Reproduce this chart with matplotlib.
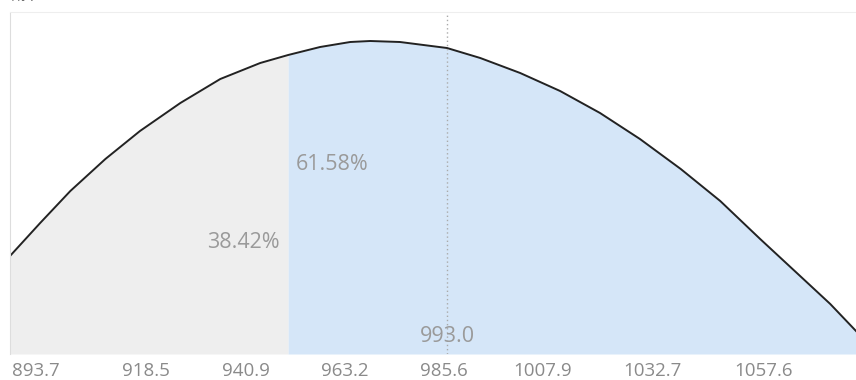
import matplotlib.pyplot as plt
import numpy as np

# curve (value, height)
curve_x = [887.8, 894.6, 901.4, 909.3, 917.1, 926.2, 935.2, 944.2, 950.5, 957.7,
           964.5, 969.0, 975.7, 986.3, 993.8, 1002.8, 1011.8, 1020.8, 1029.8,
           1039.0, 1047.9, 1056.9, 1065.9, 1072.7, 1078.5]
curve_y = [98, 131, 163, 195, 223, 251, 275, 291, 299, 307,
           312, 313, 312, 306, 296, 281, 263, 241, 215,
           185, 153, 115, 78, 50, 23]

tick_values = [893.7, 918.5, 940.9, 963.2, 985.6, 1007.9, 1032.7, 1057.6]
tick_labels = ['893.7', '918.5', '940.9', '963.2', '985.6', '1007.9', '1032.7', '1057.6']

split_x = 950.5
left_label = '38.42%'
right_label = '61.58%'
mean_x = 986.3
mean_label = '993.0'
y_title = '概率'

plt.rcParams['font.family'] = ['Open Sans', 'Noto Sans CJK SC', 'DejaVu Sans']

fig = plt.figure(figsize=(8.56, 3.8), dpi=100)
ax = fig.add_axes([10 / 856, 26 / 380, 846 / 856, 342 / 380])

x = np.array(curve_x)
y = np.array(curve_y)
split_y = np.interp(split_x, x, y)
left = x < split_x
right = x > split_x
xl = np.append(x[left], split_x)
yl = np.append(y[left], split_y)
xr = np.insert(x[right], 0, split_x)
yr = np.insert(y[right], 0, split_y)
ax.fill_between(xl, 0, yl, color='#eeeeee', linewidth=0)
ax.fill_between(xr, 0, yr, color='#d5e6f8', linewidth=0)
ax.plot(x, y, color='#222222', linewidth=1.4)
ax.axvline(mean_x, color='#aaaaaa', linestyle=(0, (1, 2)), linewidth=1)

ax.set_xlim(curve_x[0], curve_x[-1])
ax.set_ylim(0, 342)
ax.set_xticks(tick_values)
ax.set_xticklabels(tick_labels)
ax.tick_params(axis='x', length=0, pad=6, labelsize=13.5, labelcolor='#8a8a8a')
ax.set_yticks([])

for side in ['right', 'bottom']:
    ax.spines[side].set_visible(False)
ax.spines['top'].set_color('#eeeeee')
ax.spines['left'].set_color('#dddddd')
ax.spines['left'].set_linestyle((0, (1, 1)))

ax.text(split_x - 1.8, 111, left_label, ha='right', va='center', fontsize=15.5, color='#9a9a9a')
ax.text(split_x + 1.6, 189, right_label, ha='left', va='center', fontsize=15.5, color='#9a9a9a')
ax.text(mean_x, 18, mean_label, ha='center', va='center', fontsize=15.5, color='#9a9a9a')

fig.text(10 / 856, 1 - 4 / 380, y_title, ha='left', va='bottom', fontsize=11,
         color='#666666', family=['Noto Sans CJK SC', 'DejaVu Sans'])

fig.savefig('out.png', dpi=100)
